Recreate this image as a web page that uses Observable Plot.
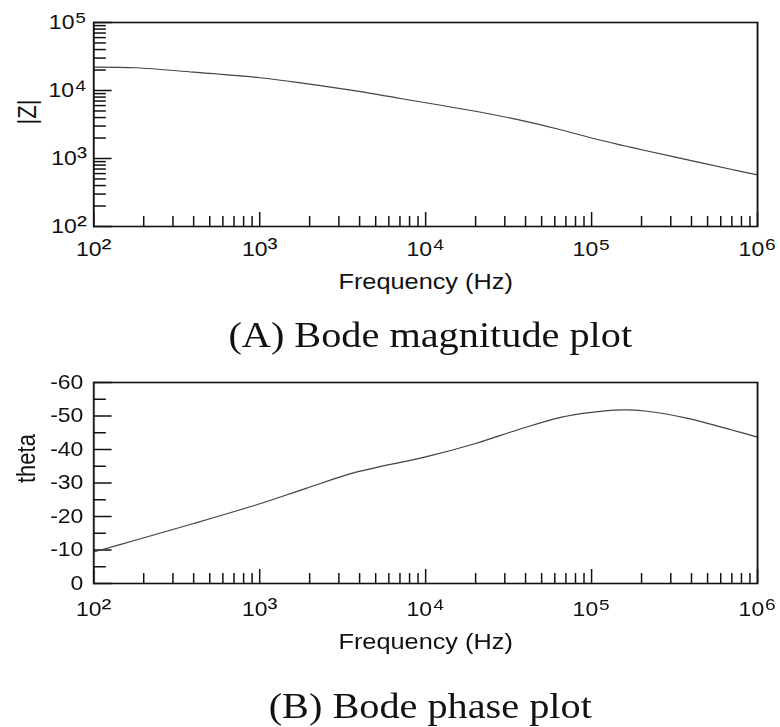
<!DOCTYPE html>
<html>
<head>
<meta charset="utf-8">
<script src="https://cdn.jsdelivr.net/npm/d3@7"></script>
<script src="https://cdn.jsdelivr.net/npm/@observablehq/plot@0.6"></script>
<style>
html, body { margin: 0; padding: 0; background: #fff; overflow: hidden; }
#page { position: relative; width: 678px; height: 727px; transform: scaleX(1.1504); transform-origin: 0 0; }
.panel { position: absolute; left: 0; }
.caption { position: absolute; left: 374px; transform: translateX(-50%); white-space: nowrap;
  font-family: "Liberation Serif", "Times New Roman", serif; font-size: 35px; line-height: 35px; color: #111; }
</style>
</head>
<body>
<div id="page">
  <div class="panel" id="top" style="top:0px"></div>
  <div class="caption" id="capA" style="top:318px"></div>
  <div class="panel" id="bottom" style="top:360px"></div>
  <div class="caption" id="capB" style="top:689px"></div>
</div>
<script>
// ---- data ----
const freqHz      = [100, 180, 400, 1000, 1900, 3860, 10000, 20000, 36000, 65000, 100000, 157000, 210000, 380000, 690000, 1000000];
const magnitudeZ  = [22100, 21600, 18600, 15400, 12600, 9800, 6600, 4950, 3720, 2650, 2000, 1540, 1310, 955, 695, 575];
const phaseTheta  = [-9.4, -13.0, -17.9, -23.8, -28.4, -33.3, -37.8, -41.8, -45.9, -49.6, -51.1, -51.8, -51.5, -49.3, -45.9, -43.7];

// ---- tick values / labels ----
const freqMajor  = [1e2, 1e3, 1e4, 1e5, 1e6];
const magMajor   = [1e2, 1e3, 1e4, 1e5];
const phaseMajor = [0, -10, -20, -30, -40, -50, -60];
const phaseMinor = [-5, -15, -25, -35, -45, -55];
const minorMultipliers = [2, 3, 4, 5, 6, 7, 8, 9];
const superscripts = {2: "\u00b2", 3: "\u00b3", 4: "\u2074", 5: "\u2075", 6: "\u2076"};
const xTitle = "Frequency (Hz)";
const magTitle = "|Z|";
const phaseTitle = "theta";
const captionA = "(A) Bode magnitude plot";
const captionB = "(B) Bode phase plot";

const freqMinor = freqMajor.slice(0, -1).flatMap(d => minorMultipliers.map(m => m * d));
const magMinor = magMajor.slice(0, -1).flatMap(d => minorMultipliers.map(m => m * d));
const pow10 = d => "10" + superscripts[Math.round(Math.log10(d))];

const magData = freqHz.map((f, i) => ({f, z: magnitudeZ[i]}));
const phaseData = freqHz.map((f, i) => ({f, theta: phaseTheta[i]}));

// ---- layout ----
const W = 678, ML = 81, MR = 20;
const frameW = W - ML - MR;
const ink = "#111";
const font = '"Liberation Sans", Arial, Helvetica, sans-serif';

function panel({height, marginTop, marginBottom, yScale, yMajor, yMinor, yFormat, data, yField, yTitle,
                yPad, xPad, titleOffset, titleDx}) {
  const frameH = height - marginTop - marginBottom;
  const svg = Plot.plot({
    width: W, height, marginLeft: ML, marginRight: MR, marginTop, marginBottom,
    style: {fontFamily: font, fontSize: "20px", color: ink, background: "white", overflow: "visible"},
    x: {type: "log", domain: [1e2, 1e6], label: null},
    y: {...yScale, label: null},
    marks: [
      Plot.axisX(freqMajor, {tickSize: 0, tickPadding: xPad, tickFormat: pow10, fontSize: 20, label: null}),
      Plot.axisY(yMajor, {tickSize: 0, tickPadding: yPad, tickFormat: yFormat, fontSize: 20, label: null}),
      Plot.ruleX(freqMinor, {insetTop: frameH - 10, stroke: ink, strokeWidth: 1.3}),
      Plot.ruleX(freqMajor, {insetTop: frameH - 14, stroke: ink, strokeWidth: 1.3}),
      Plot.ruleY(yMinor, {insetRight: frameW - 11, stroke: ink, strokeWidth: 1.5}),
      Plot.ruleY(yMajor, {insetRight: frameW - 16, stroke: ink, strokeWidth: 1.5}),
      Plot.line(data, {x: "f", y: yField, stroke: "#444", strokeWidth: 1.2, curve: "catmull-rom"}),
      Plot.frame({stroke: ink, strokeWidth: 1.6}),
      Plot.text([xTitle], {frameAnchor: "bottom", dy: titleOffset, lineAnchor: "top", fontSize: 22, fill: ink}),
      Plot.text([yTitle], {frameAnchor: "left", dx: titleDx, rotate: -90, fontSize: 22, fill: ink})
    ]
  });
  // enlarge the superscript exponent glyphs a little (text stays "10²" etc.)
  d3.select(svg).selectAll("text").each(function() {
    const t = this.textContent;
    if (/^10[\u00b2\u00b3\u2074-\u2076]$/.test(t) && this.children.length === 0) {
      this.textContent = "10";
      d3.select(this).append("tspan").attr("font-size", "1.3em").text(t.slice(2));
    }
  });
  return svg;
}

document.getElementById("top").append(panel({
  height: 305, marginTop: 22, marginBottom: 79,
  yScale: {type: "log", domain: [1e2, 1e5]},
  yMajor: magMajor, yMinor: magMinor, yFormat: pow10,
  data: magData, yField: "z", yTitle: magTitle,
  yPad: 6, xPad: 15, titleOffset: 47, titleDx: -57
}));

document.getElementById("bottom").append(panel({
  height: 305, marginTop: 22, marginBottom: 82,
  yScale: {type: "linear", domain: [0, -60]},
  yMajor: phaseMajor, yMinor: phaseMinor, yFormat: d => String(d),
  data: phaseData, yField: "theta", yTitle: phaseTitle,
  yPad: 9, xPad: 18, titleOffset: 50, titleDx: -58
}));

document.getElementById("capA").textContent = captionA;
document.getElementById("capB").textContent = captionB;
</script>
</body>
</html>
